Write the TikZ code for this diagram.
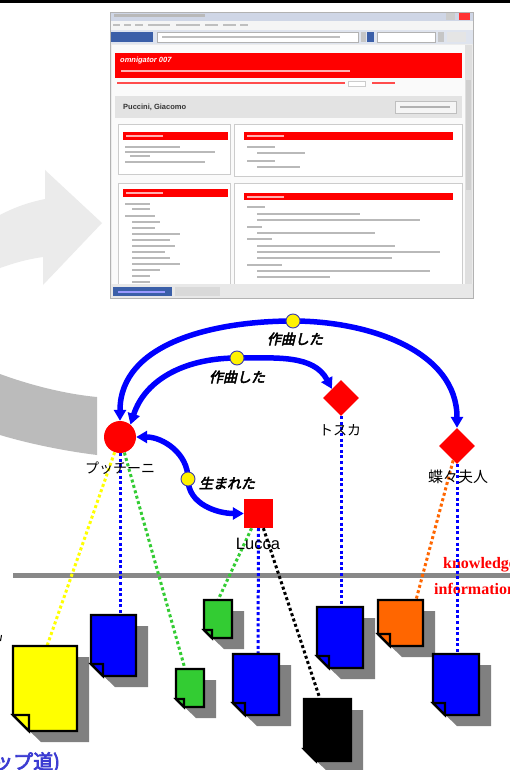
\documentclass[tikz,border=0pt]{standalone}
\usepackage{fontspec}
\setmainfont{Liberation Sans}
\newfontfamily\jp{Noto Sans CJK JP}
\newfontfamily\jpbi{Noto Sans CJK JP}[FakeSlant=0.22,FakeBold=3.5]
\newfontfamily\jpb{Noto Sans CJK JP}[FakeBold=3.5]
\newfontfamily\tms{Liberation Serif}
\usetikzlibrary{shapes.geometric,arrows.meta}
\definecolor{shgray}{HTML}{808080}
\definecolor{bandgray}{HTML}{BBBBBB}
\definecolor{lightarrow}{HTML}{EBEBEB}
\definecolor{linegray}{HTML}{888888}
\definecolor{docblue}{HTML}{0000FF}
\definecolor{docgreen}{HTML}{33CC33}
\definecolor{docyellow}{HTML}{FFFF00}
\definecolor{docorange}{HTML}{FF6600}
\definecolor{tblue}{HTML}{3C3CD2}
\definecolor{dotrim}{HTML}{3A3AB0}
\definecolor{winblue}{HTML}{3B5FA8}
\definecolor{titlebar}{HTML}{CFD6E6}
\definecolor{toolbar}{HTML}{DFE4EE}
\definecolor{pinkbar}{HTML}{FFB0B0}
\newcommand\mydoc[6]{% x0,y0,x1,y1,fold,colour
  \fill[shgray] (#1,#2) -- (#3,#2) -- (#3,#2+11) -- (#3+12,#2+11) -- (#3+12,#4+11)
     -- (#1+#5+12,#4+11) -- (#1,#4-#5) -- cycle;
  \filldraw[fill=#6,draw=black,line width=2.2pt,line join=miter]
     (#1,#2) -- (#3,#2) -- (#3,#4) -- (#1+#5,#4) -- (#1,#4-#5) -- cycle;
  \filldraw[fill=#6,draw=black,line width=2.2pt]
     (#1,#4-#5) -- (#1+#5,#4-#5) -- (#1+#5,#4) -- cycle;
}
\tikzset{
  assoc/.style={draw=docblue,line width=5.5pt,-{Triangle[length=11pt,width=12pt]}},
  hub/.style={circle,fill=yellow,draw=dotrim,line width=0.9pt,minimum size=14pt,inner sep=0pt},
  jplabel/.style={font=\jp\fontsize{14}{14}\selectfont,inner sep=0pt},
  rellabel/.style={font=\jpbi\fontsize{14}{14}\selectfont,inner sep=0pt},
  occ/.style={line width=3pt,dash pattern=on 3pt off 2.6pt},
  txtbar/.style={fill=gray!55},
}
\begin{document}
\begin{tikzpicture}[x=1pt,y=-1pt]
\useasboundingbox (0,0) rectangle (510,770);
\fill[white] (0,0) rectangle (510,770);
% top rule
\fill[black] (0,0) rectangle (510,3);
% light grey arrow
\fill[lightarrow] (0,215) .. controls (15,207) and (30,202) .. (45,199) -- (45,170) -- (102,223)
  -- (43,285) -- (43,257) .. controls (28,259) and (14,263) .. (0,268) -- cycle;
% darker grey band
\fill[bandgray] (0,374) .. controls (30,385) and (65,394) .. (97,397) -- (97,455)
  .. controls (65,451) and (30,444) .. (0,435) -- cycle;
% ---------- screenshot ----------
\fill[gray!15] (110,12) rectangle (473,298);
\fill[titlebar] (110,12) rectangle (473,21);
\fill[txtbar] (114,14.5) rectangle (205,17.5);
\fill[gray!40] (446,13) rectangle (455,20);
\fill[red!80] (459,13) rectangle (470,20);
\fill[gray!8] (110,21) rectangle (473,30);
\foreach \a/\b in {113/120,124/131,135/143,148/170,176/200,205/218,223/236,240/248}
  \fill[gray!50] (\a,24.5) rectangle (\b,26.5);
\fill[toolbar] (110,30) rectangle (473,44);
\fill[winblue] (111,32) rectangle (153,42);
\filldraw[fill=white,draw=gray!60] (157,32) rectangle (358,42);
\fill[gray!50] (162,36) rectangle (340,38);
\fill[gray!45] (361,32) rectangle (366,42);
\fill[winblue] (367,32) rectangle (374,42);
\filldraw[fill=white,draw=gray!60] (377,32) rectangle (435,42);
\fill[gray!45] (438,32) rectangle (444,42);
\fill[white!80!gray] (447,32) rectangle (466,42);
\fill[gray!4] (112,45) rectangle (465,284);
\fill[gray!25] (465,45) rectangle (472,284);
\fill[gray!38] (466,80) rectangle (471,190);
\fill[red] (115,53) rectangle (462,78);
\node[anchor=west,inner sep=0pt,text=white,font=\bfseries\itshape\fontsize{7.5}{7.5}\selectfont] (omni) at (120,61) {omnigator 007};
\fill[pinkbar] (121,70.5) rectangle (350,72.5);
\fill[red!70] (117,82.5) rectangle (345,84);
\filldraw[fill=white,draw=gray!40] (348,81) rectangle (365,86);
\fill[red!70] (372,82.5) rectangle (395,84);
\fill[gray!22] (115,96) rectangle (462,118);
\node[anchor=west,inner sep=0pt,text=black!80,font=\bfseries\fontsize{7.5}{7.5}\selectfont] (pname) at (123,107) {Puccini, Giacomo};
\filldraw[fill=gray!8,draw=gray!50] (395,101) rectangle (456,113);
\fill[gray!60] (400,106) rectangle (450,108);
\foreach \x/\y/\X/\Y in {118/124/230/174, 234/124/462/176, 118/183/230/284, 234/183/462/284}
  \filldraw[fill=white,draw=gray!40] (\x,\y) rectangle (\X,\Y);
\foreach \x/\y/\X/\Y in {123/132/228/140, 244/132/453/140, 123/189/228/197, 244/193/453/200}
  {\fill[red] (\x,\y) rectangle (\X,\Y);
   \fill[pinkbar] (\x+3,\y+3) rectangle (\x+40,\y+5);}
\foreach \y/\a/\b in {146/125/180,151/125/215,155/130/150,161/125/205,
   146/247/275,152/257/305,160/247/275,166/257/300,
   203/125/150,208/132/150,215/125/155,221/132/160,227/132/155,233/132/180,239/132/170,
   245/132/175,251/132/165,257/132/170,263/132/180,269/132/160,275/132/150,281/132/150,
   206/247/265,213/257/360,219/257/420,226/247/262,232/257/375,238/247/272,245/257/395,
   251/257/440,257/257/392,264/247/282,270/257/430,276/257/330}
  \fill[gray!55] (\a,\y) rectangle (\b,\y+1.6);
\fill[gray!18] (110,284) rectangle (473,298);
\fill[winblue] (113,287) rectangle (172,296);
\fill[white!60!blue] (118,290.5) rectangle (165,292.5);
\fill[gray!30] (175,287) rectangle (220,296);
\draw[gray!60] (110,12) rectangle (473,298);
% ---------- separator ----------
\fill[linegray] (13,572.5) rectangle (510,577.5);
\node[anchor=base west,inner sep=0pt,text=red,font=\tms\bfseries\fontsize{16}{16}\selectfont] (kn) at (443,568) {knowledge};
\node[anchor=base west,inner sep=0pt,text=red,font=\tms\bfseries\fontsize{16}{16}\selectfont] (inf) at (434,594) {information};
% ---------- topics ----------
\node[circle,fill=red,minimum size=32pt,inner sep=0pt] (pu) at (120,437) {};
\node[diamond,fill=red,minimum width=36pt,minimum height=36pt,inner sep=0pt] (to) at (341,398) {};
\node[diamond,fill=red,minimum width=36pt,minimum height=36pt,inner sep=0pt] (bu) at (457,446) {};
\node[rectangle,fill=red,minimum size=29pt,inner sep=0pt] (lu) at (258.5,513.5) {};
% ---------- occurrences ----------
\coordinate (dY) at (47,646);
\coordinate (dB1) at (120,615);
\coordinate (dG1) at (185,669);
\coordinate (dG2) at (218,600);
\coordinate (dB2) at (258,654);
\coordinate (dK) at (320,699);
\coordinate (dB3) at (341,607);
\coordinate (dO) at (416,600);
\coordinate (dB4) at (457,654);
\draw[occ,draw=docyellow] (pu) -- (dY);
\draw[occ,draw=docblue] (pu) -- (dB1);
\draw[occ,draw=docgreen] (pu) -- (dG1);
\draw[occ,draw=docgreen] (lu) -- (dG2);
\draw[occ,draw=docblue] (lu.south) -- (dB2);
\draw[occ,draw=black] (lu) -- (dK);
\draw[occ,draw=docblue] (to) -- (dB3);
\draw[occ,draw=docorange] (bu) -- (dO);
\draw[occ,draw=docblue] (bu) -- (dB4);
\mydoc{13}{646}{77}{731}{16}{docyellow}
\mydoc{91}{615}{136}{676}{12}{docblue}
\mydoc{176}{669}{204}{707}{8}{docgreen}
\mydoc{204}{600}{232}{638}{8}{docgreen}
\mydoc{233}{654}{279}{715}{12}{docblue}
\mydoc{304}{699}{351}{761}{12}{black}
\mydoc{317}{607}{363}{668}{12}{docblue}
\mydoc{378}{600}{423}{646}{12}{docorange}
\mydoc{433}{654}{479}{715}{12}{docblue}
% ---------- topic labels ----------
\node[jplabel] (pul) at (120,468) {プッチーニ};
\node[jplabel] (tol) at (340,430) {トスカ};
\node[jplabel,font=\jp\fontsize{15}{15}\selectfont] (bul) at (458,477) {蝶々夫人};
\node[inner sep=0pt,font=\fontsize{16.5}{16.5}\selectfont] (lul) at (258,544) {Lucca};
% ---------- associations ----------
\coordinate (c1) at (293,321);
\coordinate (c2) at (237,358);
\coordinate (c3) at (188,479);
\draw[assoc] (c1) to[out=180,in=90] (pu.north);
\draw[assoc] (c1) to[out=0,in=90] (bu.north);
\draw[assoc] (c2) to[out=180,in=72] (pu.50);
\draw[assoc] (c2) to[out=0,in=118] (to.north west);
\draw[assoc] (c3) to[out=90,in=0] (pu.east);
\draw[assoc] (c3) to[out=-90,in=180] (lu.west);
\node[hub] (a1) at (c1) {};
\node[hub] (a2) at (c2) {};
\node[hub] (a3) at (c3) {};
\node[rellabel] (r1) at (295,339) {作曲した};
\node[rellabel] (r2) at (237,377) {作曲した};
\node[rellabel] (r3) at (227,483) {生まれた};
% ---------- edge fragments ----------
\draw[line width=1pt] (1.5,635) -- (0.5,641);
\node[anchor=base west,inner sep=0pt,text=tblue,font=\jpb\fontsize{20}{20}\selectfont] (bt) at (-7,769) {ップ道)};
\end{tikzpicture}
\end{document}
